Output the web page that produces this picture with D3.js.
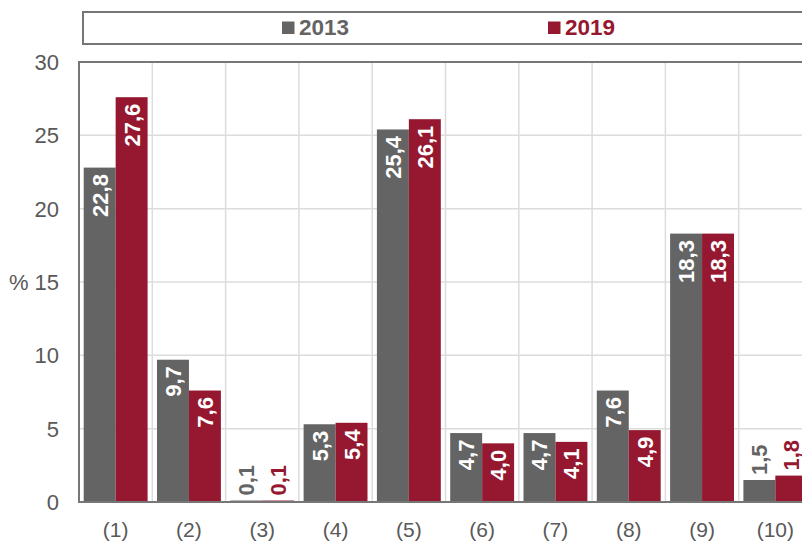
<!DOCTYPE html>
<html>
<head>
<meta charset="utf-8">
<script src="https://cdn.jsdelivr.net/npm/d3@7"></script>
<style>
  body { margin: 0; background: #fff; }
  svg { display: block; font-family: Arial, "Liberation Sans", sans-serif; }
</style>
</head>
<body>
<svg></svg>
<script>
var categories = ["(1)", "(2)", "(3)", "(4)", "(5)", "(6)", "(7)", "(8)", "(9)", "(10)"],
    seriesNames = ["2013", "2019"],
    values2013 = [22.8, 9.7, 0.1, 5.3, 25.4, 4.7, 4.7, 7.6, 18.3, 1.5],
    values2019 = [27.6, 7.6, 0.1, 5.4, 26.1, 4.0, 4.1, 4.9, 18.3, 1.8],
    yTicks = [0, 5, 10, 15, 20, 25, 30];

var width = 802,
    height = 541,
    margin = {top: 62, left: 79, bottom: 39},
    plotRight = 812,
    color = d3.scaleOrdinal().domain(seriesNames).range(["#646464", "#951830"]),
    svg = d3.select("svg").attr("width", width).attr("height", height);

var x = d3.scaleBand().domain(categories).range([margin.left, plotRight]),
    xs = d3.scaleBand().domain(seriesNames).range([4.7, x.bandwidth() - 4.7]),
    y = d3.scaleLinear().domain([0, 30]).range([height - margin.bottom, margin.top]);

var rows = categories.map(function(c, i) {
  return {cat: c, vals: [
    {name: "2013", value: values2013[i]},
    {name: "2019", value: values2019[i]}
  ]};
});

var fmt = function(v) { return d3.format(".1f")(v).replace(".", ","); };

// grid
svg.append("g")
    .selectAll("line")
    .data(yTicks.slice(1, -1))
    .enter().append("line")
    .attr("x1", margin.left).attr("x2", width)
    .attr("y1", function(d) { return y(d); })
    .attr("y2", function(d) { return y(d); })
    .attr("stroke", "#dcdcdc").attr("stroke-width", 1.5);

svg.append("g")
    .selectAll("line")
    .data(categories.slice(1))
    .enter().append("line")
    .attr("x1", function(d) { return x(d); })
    .attr("x2", function(d) { return x(d); })
    .attr("y1", y(30)).attr("y2", y(0))
    .attr("stroke", "#dcdcdc").attr("stroke-width", 1.5);

// bars
var group = svg.append("g")
    .selectAll("g")
    .data(rows)
    .enter().append("g")
    .attr("transform", function(d) { return "translate(" + x(d.cat) + ",0)"; });

group.selectAll("rect")
    .data(function(d) { return d.vals; })
    .enter().append("rect")
    .attr("x", function(d) { return xs(d.name); })
    .attr("width", xs.bandwidth())
    .attr("y", function(d) { return y(d.value); })
    .attr("height", function(d) { return y(0) - y(d.value); })
    .attr("fill", function(d) { return color(d.name); });

// value labels
group.selectAll("text")
    .data(function(d) { return d.vals; })
    .enter().append("text")
    .each(function(d) {
      var h = y(0) - y(d.value),
          inside = h > 50,
          cx = xs(d.name) + xs.bandwidth() / 2,
          ty = inside ? y(d.value) + 6.5 : y(d.value) - 5;
      d3.select(this)
        .attr("transform", "translate(" + (cx + 8) + "," + ty + ") rotate(-90)")
        .attr("text-anchor", inside ? "end" : "start")
        .attr("fill", inside ? "#fff" : color(d.name));
    })
    .attr("font-size", 22)
    .attr("font-weight", "bold")
    .text(function(d) { return fmt(d.value); });

// axes frame
svg.append("path")
    .attr("d", "M" + width + "," + y(30) + "H" + margin.left + "V" + y(0) + "H" + width)
    .attr("fill", "none")
    .attr("stroke", "#767676")
    .attr("stroke-width", 2);

// y tick labels
svg.append("g")
    .selectAll("text")
    .data(yTicks)
    .enter().append("text")
    .attr("x", 59)
    .attr("y", function(d) { return y(d) + 8; })
    .attr("text-anchor", "end")
    .attr("font-size", 22)
    .attr("fill", "#595959")
    .text(function(d) { return d; });

svg.append("text")
    .attr("x", 9)
    .attr("y", y(15) + 8)
    .attr("font-size", 22)
    .attr("fill", "#595959")
    .text("%");

// x labels
svg.append("g")
    .selectAll("text")
    .data(categories)
    .enter().append("text")
    .attr("x", function(d) { return x(d) + x.bandwidth() / 2; })
    .attr("y", 537)
    .attr("text-anchor", "middle")
    .attr("font-size", 21)
    .attr("fill", "#595959")
    .text(function(d) { return d; });

// legend
svg.append("rect")
    .attr("x", 83).attr("y", 12)
    .attr("width", 740).attr("height", 32)
    .attr("fill", "#fff")
    .attr("stroke", "#767676")
    .attr("stroke-width", 2);

var legend = svg.append("g")
    .selectAll("g")
    .data(seriesNames)
    .enter().append("g")
    .attr("transform", function(d, i) { return "translate(" + [282, 548][i] + ",0)"; });

legend.append("rect")
    .attr("x", 0).attr("y", 21.5)
    .attr("width", 12.5).attr("height", 12.5)
    .attr("fill", color);

legend.append("text")
    .attr("x", 17)
    .attr("y", 35)
    .attr("font-size", 22.5)
    .attr("font-weight", "bold")
    .attr("fill", color)
    .text(function(d) { return d; });
</script>
</body>
</html>
